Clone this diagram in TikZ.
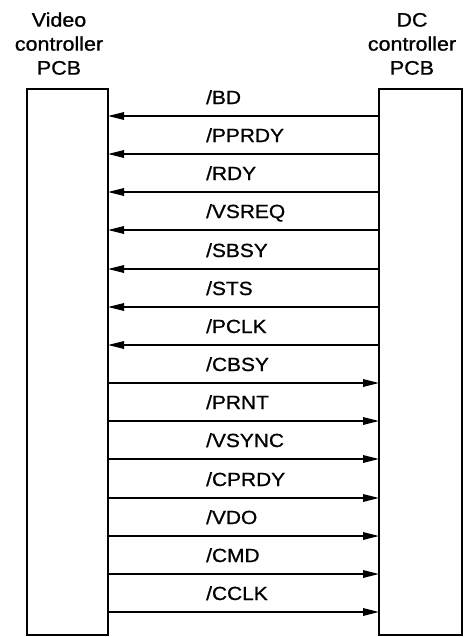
\documentclass[tikz,border=0pt]{standalone}
\usepackage{fontspec}
\setmainfont{Liberation Sans}[FakeStretch=1.1, FakeBold=0.9]
\usetikzlibrary{arrows.meta, positioning}

\tikzset{
  pcb/.style={draw, line width=2.4pt, minimum width=81pt, minimum height=546pt, inner sep=0pt, outer sep=0pt},
  heading/.style={align=center, inner sep=0pt, anchor=south, font=\fontsize{19.5}{24}\selectfont},
  sig/.style={line width=1.7pt, -{Triangle[length=16pt,width=7.5pt]}},
  lbl/.style={inner sep=0pt, anchor=base west, font=\fontsize{19}{22}\selectfont}
}

\begin{document}
\begin{tikzpicture}[x=1pt, y=-1pt]
  \useasboundingbox (0,0) rectangle (465,637);

  % Platinen
  \node[pcb] (video) at (67.5,362) {};
  \node[pcb, minimum width=83pt] (dc) at (420.5,362) {};

  % Beschriftung
  \node[heading] (videoname) at (59,75) {Video\\controller\\PCB};
  \node[heading] (dcname) at (412,75) {DC\\controller\\PCB};

  % Signale DC -> Video
  \coordinate (s1) at (240,116);
  \coordinate (s2) at (240,154);
  \coordinate (s3) at (240,192);
  \coordinate (s4) at (240,230);
  \coordinate (s5) at (240,269);
  \coordinate (s6) at (240,307);
  \coordinate (s7) at (240,345);
  \draw[sig] (dc.west |- s1) -- (video.east |- s1);
  \draw[sig] (dc.west |- s2) -- (video.east |- s2);
  \draw[sig] (dc.west |- s3) -- (video.east |- s3);
  \draw[sig] (dc.west |- s4) -- (video.east |- s4);
  \draw[sig] (dc.west |- s5) -- (video.east |- s5);
  \draw[sig] (dc.west |- s6) -- (video.east |- s6);
  \draw[sig] (dc.west |- s7) -- (video.east |- s7);
  \node[lbl] (bd)    at (206,104) {/BD};
  \node[lbl] (pprdy) at (206,142) {/PPRDY};
  \node[lbl] (rdy)   at (206,180) {/RDY};
  \node[lbl] (vsreq) at (206,218) {/VSREQ};
  \node[lbl] (sbsy)  at (206,257) {/SBSY};
  \node[lbl] (sts)   at (206,295) {/STS};
  \node[lbl] (pclk)  at (206,333) {/PCLK};

  % Signale Video -> DC
  \coordinate (s8)  at (240,383);
  \coordinate (s9)  at (240,421);
  \coordinate (s10) at (240,459);
  \coordinate (s11) at (240,498);
  \coordinate (s12) at (240,536);
  \coordinate (s13) at (240,574);
  \coordinate (s14) at (240,612);
  \draw[sig] (video.east |- s8)  -- (dc.west |- s8);
  \draw[sig] (video.east |- s9)  -- (dc.west |- s9);
  \draw[sig] (video.east |- s10) -- (dc.west |- s10);
  \draw[sig] (video.east |- s11) -- (dc.west |- s11);
  \draw[sig] (video.east |- s12) -- (dc.west |- s12);
  \draw[sig] (video.east |- s13) -- (dc.west |- s13);
  \draw[sig] (video.east |- s14) -- (dc.west |- s14);
  \node[lbl] (cbsy)  at (206,371) {/CBSY};
  \node[lbl] (prnt)  at (206,409) {/PRNT};
  \node[lbl] (vsync) at (206,447) {/VSYNC};
  \node[lbl] (cprdy) at (206,486) {/CPRDY};
  \node[lbl] (vdo)   at (206,524) {/VDO};
  \node[lbl] (cmd)   at (206,562) {/CMD};
  \node[lbl] (cclk)  at (206,600) {/CCLK};
\end{tikzpicture}
\end{document}
